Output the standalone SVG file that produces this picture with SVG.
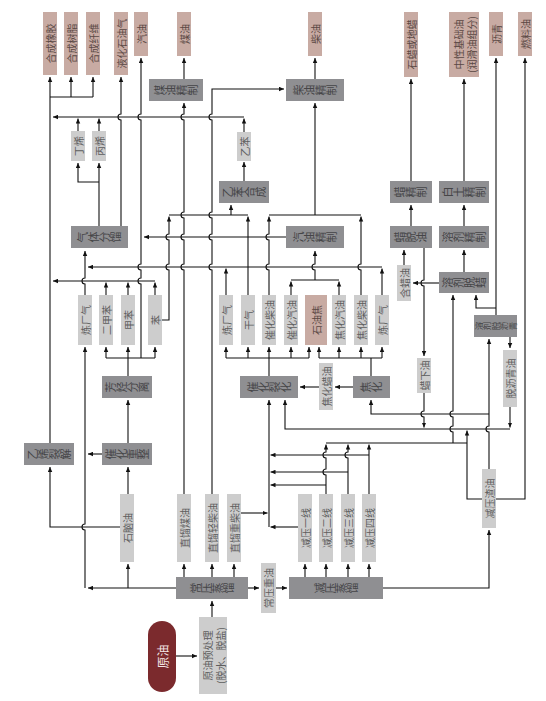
<svg xmlns="http://www.w3.org/2000/svg" width="546" height="701" viewBox="0 0 546 701">
<style>
.c{fill:none;stroke:#111;stroke-width:1.1}
.a{fill:none;stroke:#111;stroke-width:1.1;marker-end:url(#ah)}
.pg{fill:#8f8f92}
.lg{fill:#cdcdcd}
.pk{fill:#c8aba3}
text{font-family:"Noto Sans CJK SC","Noto Sans",sans-serif}
.v{font-size:10px;text-anchor:middle;dominant-baseline:central;fill:#5e5e5e}
.vp{font-size:10px;text-anchor:middle;dominant-baseline:central;fill:#5a4844}
.w{font-size:11px;text-anchor:middle;writing-mode:vertical-rl;fill:#454547}
</style>
<defs>
<marker id="ah" viewBox="0 0 10 10" refX="10" refY="5" markerWidth="5" markerHeight="5" markerUnits="userSpaceOnUse" orient="auto"><path d="M0,0.5 L10,5 L0,9.5 z" fill="#111"/></marker>
</defs>
<g id="connectors">
<path class="a" d="M50,443 V77"/>
<path class="c" d="M50,97 H93"/>
<path class="a" d="M71,97 V77"/>
<path class="a" d="M93,97 V77"/>
<path class="a" d="M121,226 V120 A3,3 0 0 1 121,114 V77"/>
<path class="a" d="M141,358 V284 A3,3 0 0 1 141,278 V270 A3,3 0 0 1 141,264 V120 A3,3 0 0 1 141,114 V58"/>
<path class="a" d="M244,132 V118.5"/>
<path class="a" d="M244,117 H53"/>
<path class="a" d="M78,131 V118.5"/>
<path class="a" d="M99,131 V118.5"/>
<path class="a" d="M99,226 V163"/>
<path class="a" d="M99,182 H78 V163"/>
<path class="a" d="M184,79 V58"/>
<path class="a" d="M315,79 V58"/>
<path class="a" d="M184,494 V270 A3,3 0 0 1 184,264 V240 A3,3 0 0 1 184,234 V218 A3,3 0 0 1 184,212 V120 A3,3 0 0 1 184,114 V103"/>
<path class="a" d="M212,494 V270 A3,3 0 0 1 212,264 V240 A3,3 0 0 1 212,234 V218 A3,3 0 0 1 212,212 V120 A3,3 0 0 1 212,114 V89 H284"/>
<path class="a" d="M411,181 V79"/>
<path class="a" d="M464,181 V79"/>
<path class="a" d="M496,315 V58"/>
<path class="a" d="M496,499 H525 V58"/>
<path class="a" d="M244,181 V162"/>
<path class="a" d="M162,320 H169 V270 A3,3 0 0 1 169,264 V240 A3,3 0 0 1 169,234 V216.5"/>
<path class="c" d="M169,215 H248"/>
<path class="a" d="M231,215 V205"/>
<path class="a" d="M248,295 V216.5"/>
<path class="c" d="M269,215 H361"/>
<path class="a" d="M269,295 V270 A3,3 0 0 1 269,264 V240 A3,3 0 0 1 269,234 V216.5"/>
<path class="a" d="M361,295 V270 A3,3 0 0 1 361,264 V216.5"/>
<path class="a" d="M315,215 V103"/>
<path class="a" d="M286,237 H144"/>
<path class="a" d="M315,280 V270 A3,3 0 0 1 315,264 V251"/>
<path class="c" d="M291,280 H339"/>
<path class="a" d="M291,295 V281.5"/>
<path class="a" d="M339,295 V281.5"/>
<path class="a" d="M382,295 V268.5"/>
<path class="a" d="M382,267 H88"/>
<path class="a" d="M226,295 V268.5"/>
<path class="a" d="M85,295 V284 A3,3 0 0 1 85,278 V251"/>
<path class="a" d="M155,281 H53"/>
<path class="a" d="M106,295 V282.5"/>
<path class="a" d="M128,295 V282.5"/>
<path class="a" d="M155,295 V282.5"/>
<path class="c" d="M128,376 V358"/>
<path class="c" d="M106,358 H155"/>
<path class="a" d="M106,358 V347"/>
<path class="a" d="M128,358 V347"/>
<path class="a" d="M155,358 V347"/>
<path class="a" d="M128,443 V400"/>
<path class="a" d="M128,494 V467"/>
<path class="a" d="M102,454 H88"/>
<path class="a" d="M176,588 H88"/>
<path class="a" d="M85,588 V530 A3,3 0 0 1 85,524 V347"/>
<path class="a" d="M128,588 V564"/>
<path class="a" d="M120,527 H50 V467"/>
<path class="a" d="M184,577 V564"/>
<path class="a" d="M212,577 V564"/>
<path class="a" d="M234,577 V564"/>
<path class="a" d="M248,588 H259"/>
<path class="a" d="M276,588 H287"/>
<path class="a" d="M212,617 V601"/>
<path class="a" d="M176,656 H197"/>
<path class="a" d="M305,577 V564"/>
<path class="a" d="M326,577 V564"/>
<path class="a" d="M348,577 V564"/>
<path class="a" d="M369,577 V564"/>
<path class="a" d="M383,588 H489 V530"/>
<path class="a" d="M269,527 V400"/>
<path class="a" d="M241,513 H267.5"/>
<path class="a" d="M298,527 H270.5"/>
<path class="a" d="M326,494 V475 A3,3 0 0 1 326,469 V458 A3,3 0 0 1 326,452 V444.5"/>
<path class="a" d="M326,485 H270.5"/>
<path class="a" d="M348,494 V458 A3,3 0 0 1 348,452 V444.5"/>
<path class="a" d="M348,472 H270.5"/>
<path class="a" d="M369,494 V444.5"/>
<path class="a" d="M369,455 H270.5"/>
<path class="c" d="M326,443 H467"/>
<path class="a" d="M453,443 V432 A3,3 0 0 1 453,426 V417 A3,3 0 0 1 453,411 V295"/>
<path class="a" d="M439,283 H413"/>
<path class="a" d="M404,265 V250"/>
<path class="a" d="M424,248 V280 A3,3 0 0 0 424,286 V356"/>
<path class="a" d="M411,226 V205"/>
<path class="a" d="M464,272 V250"/>
<path class="a" d="M464,226 V205"/>
<path class="a" d="M496,308 H476 V295"/>
<path class="a" d="M510,337 V348"/>
<path class="a" d="M510,407 V427.5"/>
<path class="a" d="M510,429 H285 V400"/>
<path class="a" d="M424,393 V411 A3,3 0 0 0 424,417 V427.5"/>
<path class="a" d="M482,499 H467 V430.5"/>
<path class="a" d="M489,469 V432 A3,3 0 0 1 489,426 V339"/>
<path class="a" d="M489,414 H371 V400"/>
<path class="c" d="M371,376 V358"/>
<path class="c" d="M319,358 H382"/>
<path class="a" d="M319,358 V347"/>
<path class="a" d="M339,358 V347"/>
<path class="a" d="M361,358 V347"/>
<path class="a" d="M382,358 V347"/>
<path class="c" d="M269,376 V358"/>
<path class="c" d="M226,358 H309"/>
<path class="a" d="M226,358 V347"/>
<path class="a" d="M248,358 V347"/>
<path class="a" d="M269,358 V347"/>
<path class="a" d="M291,358 V347"/>
<path class="a" d="M309,358 V347"/>
<path class="a" d="M353,387 H335"/>
<path class="a" d="M319,387 H300"/>
</g>
<g id="p-rubber"><rect class="pk" x="43" y="12" width="14" height="63"/><text class="vp" transform="translate(50,43.5) rotate(-90)">合成橡胶</text></g>
<g id="p-resin"><rect class="pk" x="64" y="12" width="14" height="63"/><text class="vp" transform="translate(71,43.5) rotate(-90)">合成树脂</text></g>
<g id="p-fiber"><rect class="pk" x="86" y="12" width="14" height="63"/><text class="vp" transform="translate(93,43.5) rotate(-90)">合成纤维</text></g>
<g id="p-lpg"><rect class="pk" x="114" y="12" width="14" height="63"/><text class="vp" transform="translate(121,43.5) rotate(-90)">液化石油气</text></g>
<g id="p-gasoline"><rect class="pk" x="134" y="12" width="14" height="44"/><text class="vp" transform="translate(141,34) rotate(-90)">汽油</text></g>
<g id="p-kerosene"><rect class="pk" x="177" y="12" width="14" height="44"/><text class="vp" transform="translate(184,34) rotate(-90)">煤油</text></g>
<g id="p-diesel"><rect class="pk" x="308" y="12" width="14" height="44"/><text class="vp" transform="translate(315,34) rotate(-90)">柴油</text></g>
<g id="p-wax"><rect class="pk" x="404" y="12" width="14" height="65"/><text class="vp" transform="translate(411,44.5) rotate(-90)">石蜡或地蜡</text></g>
<g id="p-base-oil"><rect class="pk" x="449" y="12" width="30" height="65"/><text class="vp" transform="translate(458,44.5) rotate(-90)">中性基础油</text><text class="vp" transform="translate(471,44.5) rotate(-90)">(润滑油组分)</text></g>
<g id="p-asphalt"><rect class="pk" x="489" y="12" width="14" height="44"/><text class="vp" transform="translate(496,34) rotate(-90)">沥青</text></g>
<g id="p-fuel-oil"><rect class="pk" x="518" y="12" width="14" height="44"/><text class="vp" transform="translate(525,34) rotate(-90)">燃料油</text></g>
<g id="u-kero-ref"><rect class="pg" x="149" y="79" width="54" height="22"/><text class="w" transform="translate(176,90) rotate(-90)">煤油精制</text></g>
<g id="u-diesel-ref"><rect class="pg" x="286" y="79" width="58" height="22"/><text class="w" transform="translate(315,90) rotate(-90)">柴油精制</text></g>
<g id="i-butene"><rect class="lg" x="71" y="131" width="14" height="30"/><text class="v" transform="translate(78,146) rotate(-90)">丁烯</text></g>
<g id="i-propene"><rect class="lg" x="92" y="131" width="14" height="30"/><text class="v" transform="translate(99,146) rotate(-90)">丙烯</text></g>
<g id="i-ethylbenzene"><rect class="lg" x="237" y="132" width="14" height="29"/><text class="v" transform="translate(244,146.5) rotate(-90)">乙苯</text></g>
<g id="u-eb-syn"><rect class="pg" x="219" y="181" width="50" height="22"/><text class="w" transform="translate(244,192) rotate(-90)">乙苯合成</text></g>
<g id="u-wax-ref"><rect class="pg" x="390" y="181" width="42" height="22"/><text class="w" transform="translate(411,192) rotate(-90)">蜡精制</text></g>
<g id="u-clay"><rect class="pg" x="439" y="181" width="50" height="22"/><text class="w" transform="translate(464,192) rotate(-90)">白土精制</text></g>
<g id="u-gas-frac"><rect class="pg" x="71" y="226" width="57" height="22"/><text class="w" transform="translate(99.5,237) rotate(-90)">气体分馏</text></g>
<g id="u-gasoline-ref"><rect class="pg" x="286" y="226" width="58" height="22"/><text class="w" transform="translate(315,237) rotate(-90)">汽油精制</text></g>
<g id="u-wax-deoil"><rect class="pg" x="390" y="226" width="42" height="22"/><text class="w" transform="translate(411,237) rotate(-90)">蜡脱油</text></g>
<g id="u-solv-ref"><rect class="pg" x="439" y="226" width="50" height="22"/><text class="w" transform="translate(464,237) rotate(-90)">溶剂精制</text></g>
<g id="i-slack-wax"><rect class="lg" x="397" y="265" width="14" height="36"/><text class="v" transform="translate(404,283) rotate(-90)">含蜡油</text></g>
<g id="u-solv-dewax"><rect class="pg" x="439" y="272" width="50" height="21"/><text class="w" transform="translate(464,282.5) rotate(-90)">溶剂脱蜡</text></g>
<g id="u-deasphalt"><rect class="pg" x="474" y="315" width="43" height="22"/><text class="w" style="font-size:8.5px" transform="translate(495.5,326) rotate(-90)">溶剂脱沥青</text></g>
<g id="i-refgas-1"><rect class="lg" x="78" y="295" width="14" height="50"/><text class="v" transform="translate(85,320) rotate(-90)">炼厂气</text></g>
<g id="i-xylene"><rect class="lg" x="99" y="295" width="14" height="50"/><text class="v" transform="translate(106,320) rotate(-90)">二甲苯</text></g>
<g id="i-toluene"><rect class="lg" x="121" y="295" width="14" height="50"/><text class="v" transform="translate(128,320) rotate(-90)">甲苯</text></g>
<g id="i-benzene"><rect class="lg" x="148" y="295" width="14" height="50"/><text class="v" transform="translate(155,320) rotate(-90)">苯</text></g>
<g id="i-refgas-2"><rect class="lg" x="219" y="295" width="14" height="50"/><text class="v" transform="translate(226,320) rotate(-90)">炼厂气</text></g>
<g id="i-drygas"><rect class="lg" x="241" y="295" width="14" height="50"/><text class="v" transform="translate(248,320) rotate(-90)">干气</text></g>
<g id="i-fcc-diesel"><rect class="lg" x="262" y="295" width="14" height="50"/><text class="v" transform="translate(269,320) rotate(-90)">催化柴油</text></g>
<g id="i-fcc-gasoline"><rect class="lg" x="284" y="295" width="14" height="50"/><text class="v" transform="translate(291,320) rotate(-90)">催化汽油</text></g>
<g id="p-coke"><rect class="pk" x="305" y="295" width="22" height="50"/><text class="vp" transform="translate(316,320) rotate(-90)">石油焦</text></g>
<g id="i-coker-gasoline"><rect class="lg" x="332" y="295" width="14" height="50"/><text class="v" transform="translate(339,320) rotate(-90)">焦化汽油</text></g>
<g id="i-coker-diesel"><rect class="lg" x="354" y="295" width="14" height="50"/><text class="v" transform="translate(361,320) rotate(-90)">焦化柴油</text></g>
<g id="i-refgas-3"><rect class="lg" x="375" y="295" width="14" height="50"/><text class="v" transform="translate(382,320) rotate(-90)">炼厂气</text></g>
<g id="i-coker-gasoil"><rect class="lg" x="319" y="363" width="14" height="47"/><text class="v" transform="translate(326,386.5) rotate(-90)">焦化蜡油</text></g>
<g id="i-foots-oil"><rect class="lg" x="417" y="358" width="14" height="35"/><text class="v" transform="translate(424,375.5) rotate(-90)">蜡下油</text></g>
<g id="i-dao"><rect class="lg" x="503" y="350" width="14" height="57"/><text class="v" transform="translate(510,378.5) rotate(-90)">脱沥青油</text></g>
<g id="u-arom-sep"><rect class="pg" x="102" y="376" width="50" height="22"/><text class="w" transform="translate(127,387) rotate(-90)">芳烃分离</text></g>
<g id="u-fcc"><rect class="pg" x="240" y="376" width="58" height="22"/><text class="w" transform="translate(269,387) rotate(-90)">催化裂化</text></g>
<g id="u-coker"><rect class="pg" x="353" y="376" width="37" height="22"/><text class="w" transform="translate(371.5,387) rotate(-90)">焦化</text></g>
<g id="u-ethylene"><rect class="pg" x="24" y="443" width="50" height="22"/><text class="w" transform="translate(49,454) rotate(-90)">乙烯裂解</text></g>
<g id="u-reformer"><rect class="pg" x="102" y="443" width="50" height="22"/><text class="w" transform="translate(127,454) rotate(-90)">催化重整</text></g>
<g id="i-vac-residue"><rect class="lg" x="482" y="469" width="14" height="59"/><text class="v" transform="translate(489,498.5) rotate(-90)">减压渣油</text></g>
<g id="i-naphtha"><rect class="lg" x="120" y="494" width="14" height="68"/><text class="v" transform="translate(127,528) rotate(-90)">石脑油</text></g>
<g id="i-sr-kero"><rect class="lg" x="177" y="494" width="14" height="68"/><text class="v" transform="translate(184,528) rotate(-90)">直馏煤油</text></g>
<g id="i-sr-light-diesel"><rect class="lg" x="205" y="494" width="14" height="68"/><text class="v" transform="translate(212,528) rotate(-90)">直馏轻柴油</text></g>
<g id="i-sr-heavy-diesel"><rect class="lg" x="227" y="494" width="14" height="68"/><text class="v" transform="translate(234,528) rotate(-90)">直馏重柴油</text></g>
<g id="i-vac-1"><rect class="lg" x="298" y="494" width="14" height="68"/><text class="v" transform="translate(305,528) rotate(-90)">减压一线</text></g>
<g id="i-vac-2"><rect class="lg" x="319" y="494" width="14" height="68"/><text class="v" transform="translate(326,528) rotate(-90)">减压二线</text></g>
<g id="i-vac-3"><rect class="lg" x="341" y="494" width="14" height="68"/><text class="v" transform="translate(348,528) rotate(-90)">减压三线</text></g>
<g id="i-vac-4"><rect class="lg" x="362" y="494" width="14" height="68"/><text class="v" transform="translate(369,528) rotate(-90)">减压四线</text></g>
<g id="i-atm-residue"><rect class="lg" x="261" y="563" width="15" height="50"/><text class="v" transform="translate(268.5,588) rotate(-90)">常压重油</text></g>
<g id="u-atm-dist"><rect class="pg" x="176" y="577" width="72" height="22"/><text class="w" transform="translate(212,588) rotate(-90)">常压蒸馏</text></g>
<g id="u-vac-dist"><rect class="pg" x="289" y="577" width="94" height="22"/><text class="w" transform="translate(336,588) rotate(-90)">减压蒸馏</text></g>
<g id="crude"><rect x="148" y="621" width="28" height="71" rx="14" ry="14" fill="#7b2a2d"/><text transform="translate(162,656.5) rotate(-90)" style="font-size:12px;text-anchor:middle;dominant-baseline:central;fill:#f3e6e6">原油</text></g>
<g id="u-pretreat"><rect class="lg" x="199" y="617" width="28" height="77"/><text class="v" transform="translate(207,655.5) rotate(-90)">原油预处理</text><text class="v" transform="translate(220,655.5) rotate(-90)">(脱水、脱盐)</text></g>
</svg>
